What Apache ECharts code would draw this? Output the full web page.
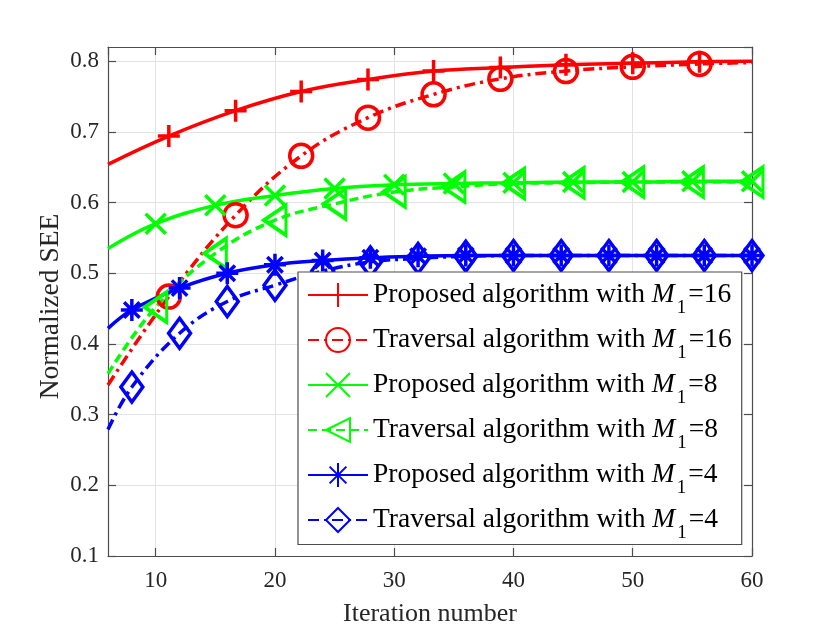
<!DOCTYPE html>
<html>
<head>
<meta charset="utf-8">
<script src="https://cdn.jsdelivr.net/npm/echarts@6/dist/echarts.min.js"></script>
<style>
  html, body { margin: 0; padding: 0; background: #fff; }
  #chart { width: 830px; height: 625px; }
</style>
</head>
<body>
<div id="chart"></div>
<script>
// iteration numbers where the curves were read
const xM16 = [6, 11.1, 16.7, 22.2, 27.8, 33.3, 38.9, 44.4, 50, 55.6, 60];
const xM8 = [6, 10, 15, 20, 25, 30, 35, 40, 45, 50, 55, 60];
const xM4 = [6, 8, 12, 16, 20, 24, 28, 32, 36, 40, 44, 48, 52, 56, 60];

// normalized SEE values
const proposed16 = [0.654, 0.694, 0.730, 0.757, 0.774, 0.786, 0.791, 0.795, 0.797, 0.799, 0.800];
const traversal16 = [0.342, 0.467, 0.582, 0.666, 0.720, 0.753, 0.775, 0.786, 0.792, 0.796, 0.798];
const proposed8 = [0.535, 0.570, 0.596, 0.610, 0.620, 0.625, 0.627, 0.628, 0.629, 0.629, 0.630, 0.630];
const traversal8 = [0.358, 0.452, 0.528, 0.575, 0.598, 0.615, 0.622, 0.627, 0.628, 0.629, 0.629, 0.629];
const proposed4 = [0.422, 0.448, 0.479, 0.500, 0.512, 0.518, 0.522, 0.524, 0.525, 0.525, 0.525, 0.525, 0.525, 0.525, 0.525];
const traversal4 = [0.279, 0.339, 0.415, 0.460, 0.483, 0.503, 0.516, 0.521, 0.524, 0.525, 0.525, 0.525, 0.525, 0.525, 0.525];

// points that carry no marker (curve ends)
const unmarked16 = [0, 10];
const unmarked8 = [0];
const unmarked4 = [0];

const seriesNames = [
  'Proposed algorithm with M1=16',
  'Traversal algorithm with M1=16',
  'Proposed algorithm with M1=8',
  'Traversal algorithm with M1=8',
  'Proposed algorithm with M1=4',
  'Traversal algorithm with M1=4'
];

const FONT = "'Liberation Serif', 'Times New Roman', serif";
const RED = '#ff0000', GREEN = '#00ff00', BLUE = '#0000ff';
const DASHDOT = [11, 5, 3, 5];
const DASHED = [9, 5];
const LW = 3.5;

const SYM = {
  plus: 'path://M0,10L20,10M10,0L10,20',
  cross: 'path://M0,0L20,20M20,0L0,20',
  star: 'path://M0,10L20,10M10,0L10,20M3,3L17,17M17,3L3,17',
  left: 'path://M0,10L20,0L20,20Z',
  diamond: 'path://M10,0L20,10L10,20L0,10Z'
};

function points(xs, ys, unmarked) {
  return xs.map(function (x, i) {
    const p = { value: [x, ys[i]] };
    if (unmarked.indexOf(i) >= 0) p.symbol = 'none';
    return p;
  });
}

function curve(name, xs, ys, unmarked, color, type, symbol, size) {
  return {
    name: name,
    type: 'line',
    data: points(xs, ys, unmarked),
    smooth: 0.4,
    symbol: symbol,
    symbolSize: size,
    showAllSymbol: true,
    lineStyle: { color: color, width: LW, type: type, cap: 'butt' },
    itemStyle: { color: 'rgba(255,255,255,0)', borderColor: color, borderWidth: LW },
    emphasis: { disabled: true },
    z: 3
  };
}

const chart = echarts.init(document.getElementById('chart'), null, { renderer: 'canvas' });

const axisLine = { show: true, lineStyle: { color: '#4d4d4d', width: 1.2 } };
const axisTick = { show: true, inside: true, length: 8, lineStyle: { color: '#4d4d4d', width: 1.2 } };
const splitLine = { show: true, lineStyle: { color: '#e3e3e3', width: 1 } };

chart.setOption({
  animation: false,
  backgroundColor: '#fff',
  grid: { left: 108, right: 78, top: 47, bottom: 69, containLabel: false, outerBoundsMode: 'none' },
  xAxis: [{
    type: 'value', min: 6, max: 60,
    name: 'Iteration number', nameLocation: 'middle', nameGap: 45,
    nameTextStyle: { fontFamily: FONT, fontSize: 26, color: '#262626' },
    axisLine: axisLine, axisTick: axisTick, splitLine: splitLine,
    axisLabel: { showMinLabel: false, fontFamily: FONT, fontSize: 23, color: '#262626', margin: 13 }
  }, {
    type: 'value', min: 6, max: 60, position: 'top',
    axisLine: axisLine, axisTick: axisTick, splitLine: { show: false },
    axisLabel: { show: false }
  }],
  yAxis: [{
    type: 'value', min: 0.1, max: 0.82, interval: 0.1,
    name: 'Normalized SEE', nameLocation: 'middle', nameGap: 43, nameMoveOverlap: false,
    nameTextStyle: { fontFamily: FONT, fontSize: 27.5, color: '#262626', padding: [0, 10, 0, 0] },
    axisLine: axisLine, axisTick: axisTick, splitLine: splitLine,
    axisLabel: {
      showMaxLabel: false, fontFamily: FONT, fontSize: 23, color: '#262626', margin: 9,
      formatter: function (v) { return v.toFixed(1); }
    }
  }, {
    type: 'value', min: 0.1, max: 0.82, interval: 0.1, position: 'right',
    axisLine: axisLine, axisTick: axisTick, splitLine: { show: false },
    axisLabel: { show: false }
  }],
  legend: {
    orient: 'vertical',
    left: 298, top: 272,
    padding: [9, 10, 2, 9],
    itemWidth: 60, itemHeight: 30, itemGap: 8.5,
    selectedMode: false,
    backgroundColor: '#fff',
    borderColor: '#4d4d4d', borderWidth: 1.2,
    data: seriesNames,
    formatter: function (name) {
      const m = name.match(/^(.*) M1=(\d+)$/);
      return m[1] + ' {i|M}{s|1}=' + m[2];
    },
    textStyle: {
      fontFamily: FONT, fontSize: 27.5, color: '#000', lineHeight: 28,
      rich: {
        i: { fontFamily: FONT, fontSize: 27.5, fontStyle: 'italic', color: '#000', lineHeight: 28 },
        s: { fontFamily: FONT, fontSize: 19, color: '#000', lineHeight: 19, padding: [13, 2, -13, 2] }
      }
    }
  },
  series: [
    curve(seriesNames[0], xM16, proposed16, unmarked16, RED, 'solid', SYM.plus, 22),
    curve(seriesNames[1], xM16, traversal16, unmarked16, RED, DASHDOT, 'circle', 23),
    curve(seriesNames[2], xM8, proposed8, unmarked8, GREEN, 'solid', SYM.cross, 20),
    curve(seriesNames[3], xM8, traversal8, unmarked8, GREEN, DASHED, SYM.left, [22, 30]),
    curve(seriesNames[4], xM4, proposed4, unmarked4, BLUE, 'solid', SYM.star, 22),
    curve(seriesNames[5], xM4, traversal4, unmarked4, BLUE, DASHDOT, SYM.diamond, [22, 30])
  ]
});
</script>
</body>
</html>
